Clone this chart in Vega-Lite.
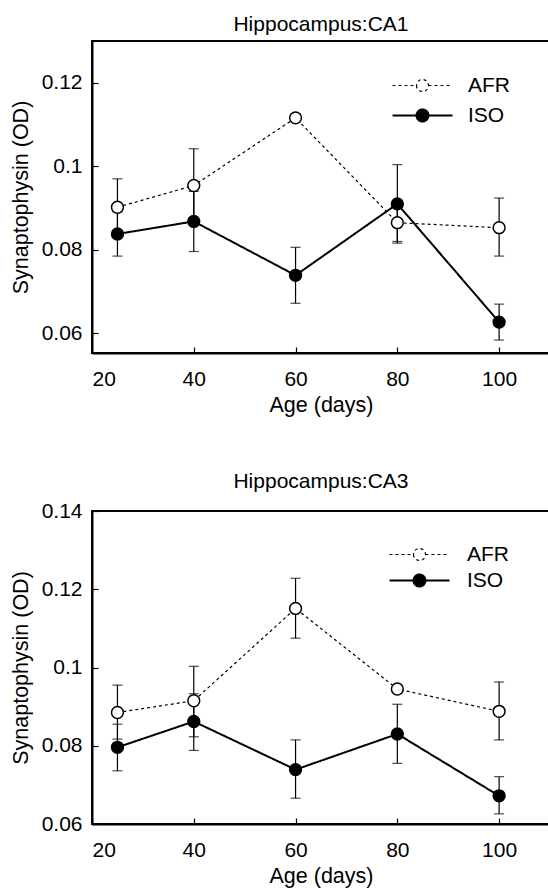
{
  "$schema": "https://vega.github.io/schema/vega-lite/v6.json",
  "padding": {"left": 9, "top": 13, "right": 0, "bottom": 0},
  "background": "white",
  "config": {
    "font": "Liberation Sans",
    "view": {"stroke": "black", "strokeWidth": 2},
    "axis": {
      "grid": false,
      "domainColor": "black",
      "domainWidth": 2,
      "tickColor": "black",
      "tickWidth": 1.2,
      "tickSize": -6,
      "labelFont": "Liberation Sans",
      "labelFontSize": 21,
      "labelColor": "black",
      "titleFont": "Liberation Sans",
      "titleFontSize": 21.5,
      "titleFontWeight": "normal",
      "titleColor": "black"
    },
    "title": {"font": "Liberation Sans", "fontSize": 21, "fontWeight": "normal", "color": "black"},
    "legend": {"labelFont": "Liberation Sans", "labelFontSize": 21, "labelColor": "black"}
  },
  "datasets": {
    "syn": [
      {"panel": "CA1", "series": "AFR", "age": 25, "mean": 0.0902, "lo": 0.0834, "hi": 0.0970},
      {"panel": "CA1", "series": "AFR", "age": 40, "mean": 0.0954, "lo": 0.0866, "hi": 0.1042},
      {"panel": "CA1", "series": "AFR", "age": 60, "mean": 0.1116, "lo": 0.1106, "hi": 0.1126},
      {"panel": "CA1", "series": "AFR", "age": 80, "mean": 0.0865, "lo": 0.0820, "hi": 0.0910},
      {"panel": "CA1", "series": "AFR", "age": 100, "mean": 0.0853, "lo": 0.0785, "hi": 0.0924},
      {"panel": "CA1", "series": "ISO", "age": 25, "mean": 0.0838, "lo": 0.0785, "hi": 0.0891},
      {"panel": "CA1", "series": "ISO", "age": 40, "mean": 0.0868, "lo": 0.0796, "hi": 0.0940},
      {"panel": "CA1", "series": "ISO", "age": 60, "mean": 0.0739, "lo": 0.0672, "hi": 0.0806},
      {"panel": "CA1", "series": "ISO", "age": 80, "mean": 0.0910, "lo": 0.0816, "hi": 0.1004},
      {"panel": "CA1", "series": "ISO", "age": 100, "mean": 0.0627, "lo": 0.0584, "hi": 0.0670},
      {"panel": "CA3", "series": "AFR", "age": 25, "mean": 0.0885, "lo": 0.0817, "hi": 0.0955},
      {"panel": "CA3", "series": "AFR", "age": 40, "mean": 0.0915, "lo": 0.0823, "hi": 0.1003},
      {"panel": "CA3", "series": "AFR", "age": 60, "mean": 0.1151, "lo": 0.1075, "hi": 0.1228},
      {"panel": "CA3", "series": "AFR", "age": 80, "mean": 0.0945, "lo": 0.0940, "hi": 0.0950},
      {"panel": "CA3", "series": "AFR", "age": 100, "mean": 0.0888, "lo": 0.0815, "hi": 0.0963},
      {"panel": "CA3", "series": "ISO", "age": 25, "mean": 0.0796, "lo": 0.0736, "hi": 0.0855},
      {"panel": "CA3", "series": "ISO", "age": 40, "mean": 0.0862, "lo": 0.0788, "hi": 0.0933},
      {"panel": "CA3", "series": "ISO", "age": 60, "mean": 0.0739, "lo": 0.0666, "hi": 0.0815},
      {"panel": "CA3", "series": "ISO", "age": 80, "mean": 0.0830, "lo": 0.0755, "hi": 0.0906},
      {"panel": "CA3", "series": "ISO", "age": 100, "mean": 0.0672, "lo": 0.0626, "hi": 0.0721}
    ]
  },
  "data": {"name": "syn"},
  "spacing": 53,
  "resolve": {"scale": {"y": "independent"}, "legend": {"strokeDash": "independent", "fill": "independent", "strokeWidth": "independent"}},
  "vconcat": [
    {
      "width": 458,
      "height": 312,
      "title": {"text": "Hippocampus:CA1", "offset": 6},
      "transform": [{"filter": "datum.panel === 'CA1'"}],
      "encoding": {
        "x": {"field": "age", "type": "quantitative",
              "scale": {"domain": [20, 110], "nice": false, "zero": false},
              "axis": {"values": [20, 40, 60, 80, 100], "title": "Age (days)", "labelPadding": 21, "titlePadding": 5}}
      },
      "layer": [
        {
          "mark": {"type": "errorbar", "color": "black", "thickness": 1.2, "ticks": {"size": 10, "thickness": 1.2, "color": "black"}},
          "encoding": {
            "y": {"field": "lo", "type": "quantitative",
                  "scale": {"domain": [0.0553, 0.13], "nice": false, "zero": false},
                  "axis": {"values": [0.06, 0.08, 0.1, 0.12], "format": ".2~f", "title": "Synaptophysin (OD)", "labelPadding": 16, "titlePadding": 9}},
            "y2": {"field": "hi"},
            "detail": {"field": "series", "type": "nominal"}
          }
        },
        {
          "mark": {"type": "line", "color": "black"},
          "encoding": {
            "y": {"field": "mean", "type": "quantitative"},
            "strokeDash": {"field": "series", "type": "nominal",
                           "scale": {"domain": ["AFR", "ISO"], "range": [[3, 3], [1, 0]]},
                           "legend": {"title": null, "orient": "none", "legendX": 320, "legendY": 34, "symbolType": "M-5,0H-1M1,0H5M-1,0A1,1 0 1,0 1,0A1,1 0 1,0 -1,0", "symbolSize": 144, "symbolStrokeColor": "black", "symbolStrokeWidth": 1.5, "labelOffset": 35, "rowPadding": 8, "padding": 0}},
            "strokeWidth": {"field": "series", "type": "nominal", "scale": {"domain": ["AFR", "ISO"], "range": [1.2, 2]}, "legend": null}
          }
        },
        {
          "mark": {"type": "point", "filled": true, "size": 140, "stroke": "black", "strokeWidth": 1.5, "opacity": 1},
          "encoding": {
            "y": {"field": "mean", "type": "quantitative"},
            "fill": {"field": "series", "type": "nominal",
                     "scale": {"domain": ["AFR", "ISO"], "range": ["white", "black"]},
                     "legend": {"title": null, "orient": "none", "legendX": 320, "legendY": 34, "symbolType": "M-5,0H-1M1,0H5M-1,0A1,1 0 1,0 1,0A1,1 0 1,0 -1,0", "symbolSize": 144, "symbolStrokeColor": "black", "symbolStrokeWidth": 1.5, "labelOffset": 35, "rowPadding": 8, "padding": 0}}
          }
        }
      ]
    },
    {
      "width": 458,
      "height": 313,
      "title": {"text": "Hippocampus:CA3", "offset": 8},
      "transform": [{"filter": "datum.panel === 'CA3'"}],
      "encoding": {
        "x": {"field": "age", "type": "quantitative",
              "scale": {"domain": [20, 110], "nice": false, "zero": false},
              "axis": {"values": [20, 40, 60, 80, 100], "title": "Age (days)", "labelPadding": 21, "titlePadding": 5}}
      },
      "layer": [
        {
          "mark": {"type": "errorbar", "color": "black", "thickness": 1.2, "ticks": {"size": 10, "thickness": 1.2, "color": "black"}},
          "encoding": {
            "y": {"field": "lo", "type": "quantitative",
                  "scale": {"domain": [0.06, 0.14], "nice": false, "zero": false},
                  "axis": {"values": [0.06, 0.08, 0.1, 0.12, 0.14], "format": ".2~f", "title": "Synaptophysin (OD)", "labelPadding": 16, "titlePadding": 9}},
            "y2": {"field": "hi"},
            "detail": {"field": "series", "type": "nominal"}
          }
        },
        {
          "mark": {"type": "line", "color": "black"},
          "encoding": {
            "y": {"field": "mean", "type": "quantitative"},
            "strokeDash": {"field": "series", "type": "nominal",
                           "scale": {"domain": ["AFR", "ISO"], "range": [[3, 3], [1, 0]]},
                           "legend": {"title": null, "orient": "none", "legendX": 317, "legendY": 33, "symbolType": "M-5,0H-1M1,0H5M-1,0A1,1 0 1,0 1,0A1,1 0 1,0 -1,0", "symbolSize": 144, "symbolStrokeColor": "black", "symbolStrokeWidth": 1.5, "labelOffset": 37, "rowPadding": 4, "padding": 0}},
            "strokeWidth": {"field": "series", "type": "nominal", "scale": {"domain": ["AFR", "ISO"], "range": [1.2, 2]}, "legend": null}
          }
        },
        {
          "mark": {"type": "point", "filled": true, "size": 140, "stroke": "black", "strokeWidth": 1.5, "opacity": 1},
          "encoding": {
            "y": {"field": "mean", "type": "quantitative"},
            "fill": {"field": "series", "type": "nominal",
                     "scale": {"domain": ["AFR", "ISO"], "range": ["white", "black"]},
                     "legend": {"title": null, "orient": "none", "legendX": 317, "legendY": 33, "symbolType": "M-5,0H-1M1,0H5M-1,0A1,1 0 1,0 1,0A1,1 0 1,0 -1,0", "symbolSize": 144, "symbolStrokeColor": "black", "symbolStrokeWidth": 1.5, "labelOffset": 37, "rowPadding": 4, "padding": 0}}
          }
        }
      ]
    }
  ]
}
